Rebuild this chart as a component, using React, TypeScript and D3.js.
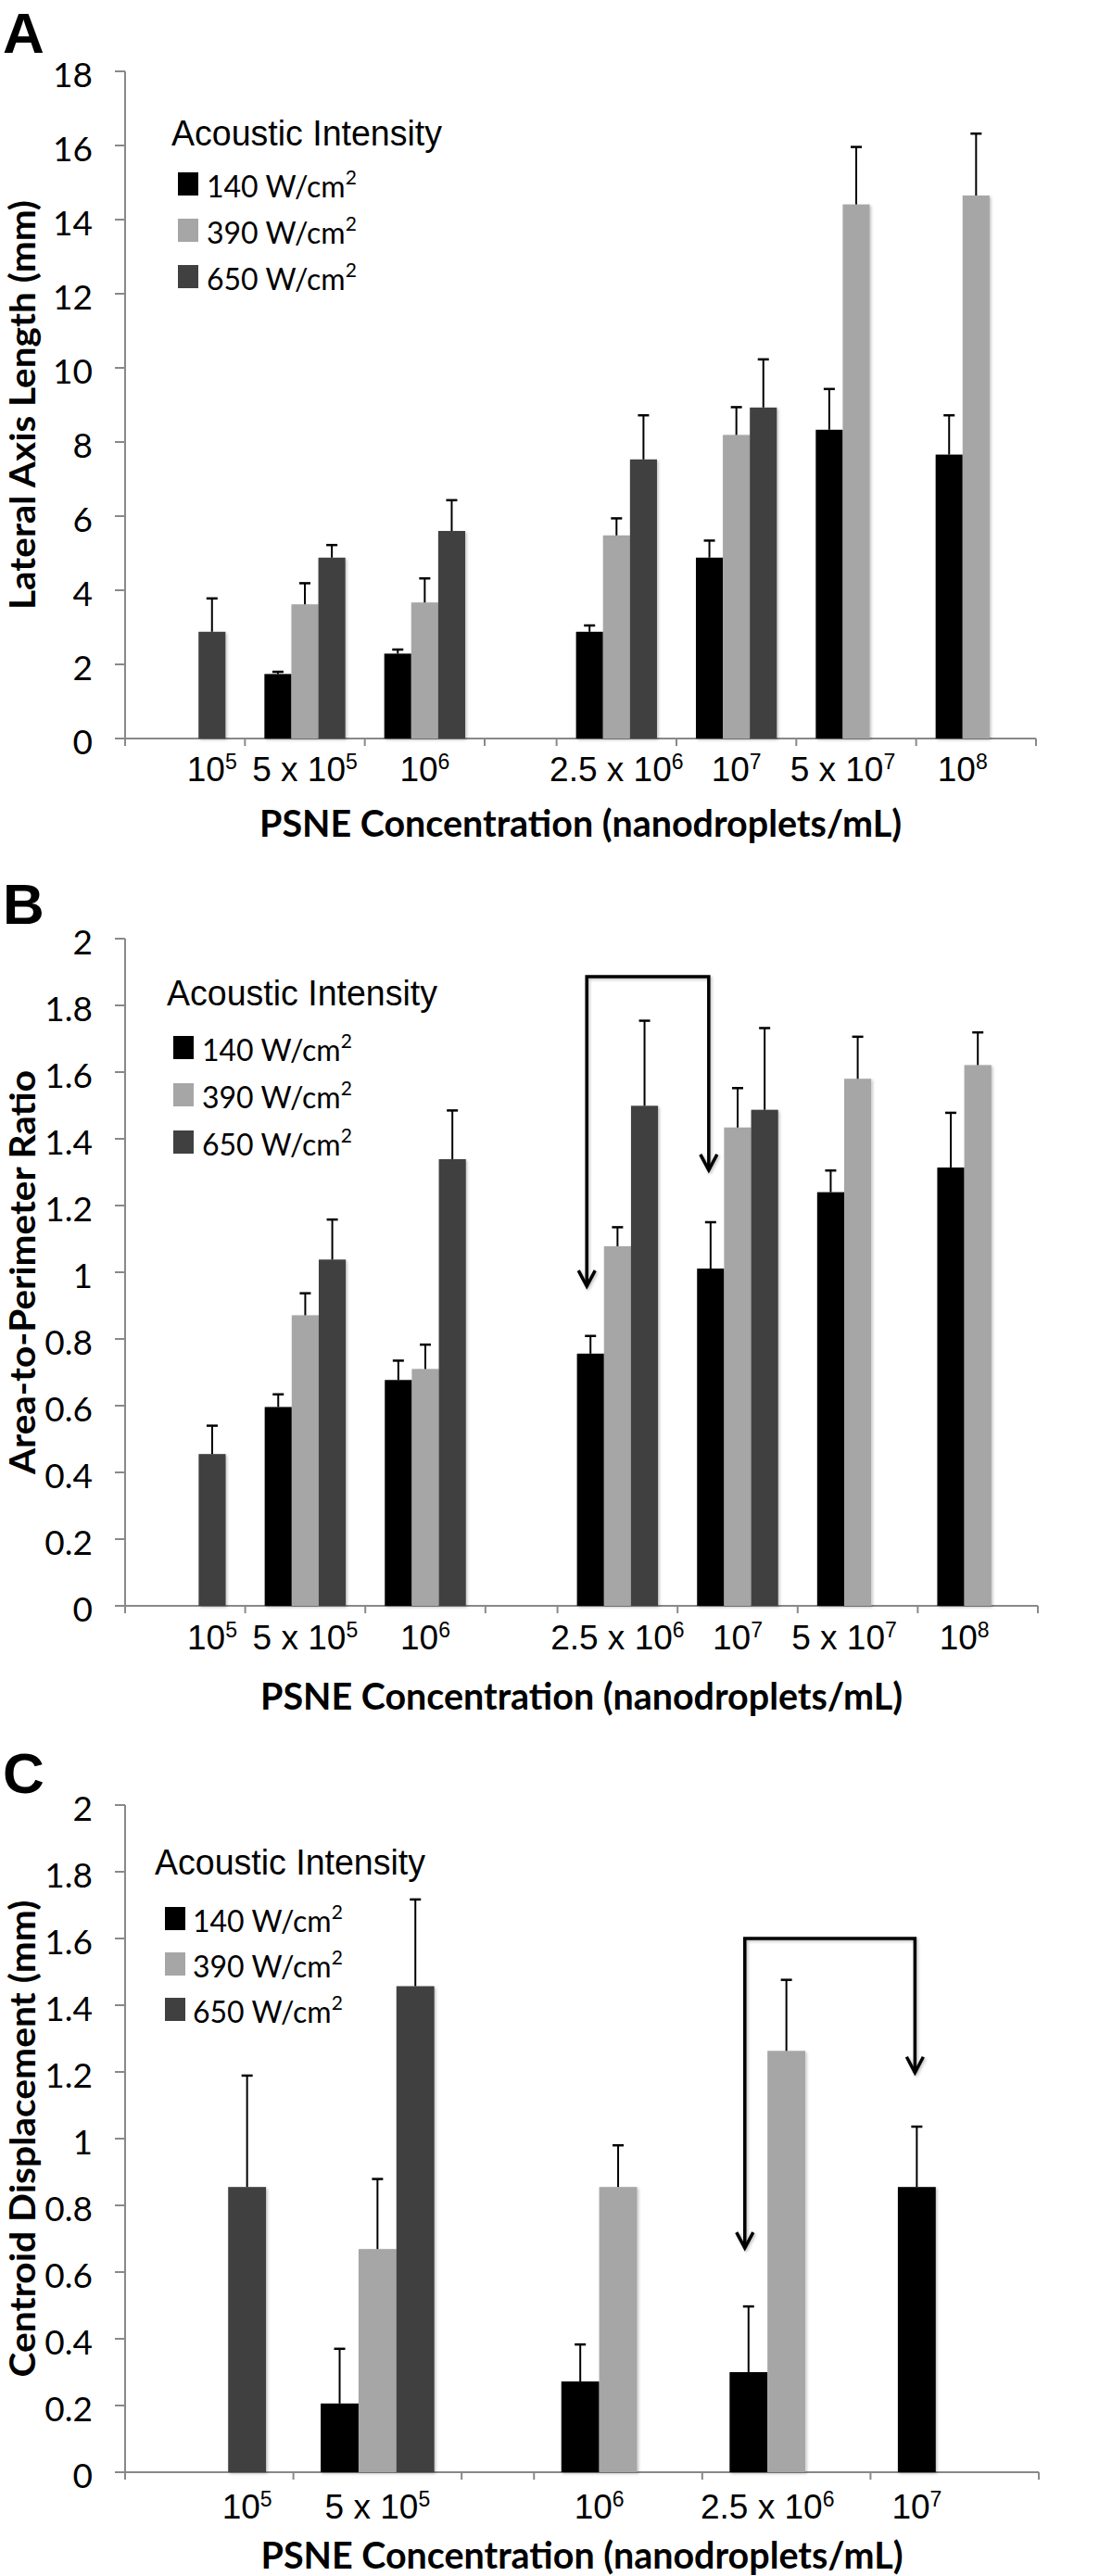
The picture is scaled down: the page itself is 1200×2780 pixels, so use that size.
import React from "react";
import * as d3 from "d3";

// ---------- data ----------
const seriesNames = ["140", "390", "650"];
const seriesColors = ["#000000", "#a6a6a6", "#404040"];
const legendTitle = "Acoustic Intensity";
const xTitle = "PSNE Concentration (nanodroplets/mL)";

const catBaseAB = ["10", "5 x 10", "10", "2.5 x 10", "10", "5 x 10", "10"];
const catExpAB = ["5", "5", "6", "6", "7", "7", "8"];
const catBaseC = ["10", "5 x 10", "10", "2.5 x 10", "10"];
const catExpC = ["5", "5", "6", "6", "7"];

// Panel A: Lateral Axis Length (mm)
const a140 = [null, 1.74, 2.29, 2.88, 4.88, 8.33, 7.66];
const a140Err = [null, 0.06, 0.11, 0.17, 0.46, 1.1, 1.06];
const a390 = [null, 3.62, 3.67, 5.48, 8.19, 14.41, 14.65];
const a390Err = [null, 0.57, 0.65, 0.46, 0.75, 1.55, 1.67];
const a650 = [2.88, 4.88, 5.6, 7.53, 8.93, null, null];
const a650Err = [0.9, 0.34, 0.83, 1.19, 1.3, null, null];

// Panel B: Area-to-Perimeter Ratio
const b140 = [null, 0.596, 0.677, 0.756, 1.011, 1.24, 1.314];
const b140Err = [null, 0.038, 0.058, 0.053, 0.139, 0.065, 0.164];
const b390 = [null, 0.871, 0.71, 1.078, 1.434, 1.58, 1.621];
const b390Err = [null, 0.066, 0.073, 0.057, 0.118, 0.126, 0.098];
const b650 = [0.455, 1.038, 1.339, 1.499, 1.487, null, null];
const b650Err = [0.085, 0.12, 0.146, 0.255, 0.245, null, null];
// bracket: [top level, left tip, right tip]
const bBracket = [1.886, 0.958, 1.306];

// Panel C: Centroid Displacement (mm)
const c140 = [null, 0.206, 0.272, 0.3, 0.855];
const c140Err = [null, 0.164, 0.111, 0.197, 0.181];
const c390 = [null, 0.669, 0.855, 1.263, null];
const c390Err = [null, 0.21, 0.125, 0.213, null];
const c650 = [0.855, 1.457, null, null, null];
const c650Err = [0.334, 0.26, null, null, null];
const cBracket = [1.6, 0.672, 1.198];

// ---------- layout ----------
const X0 = 135;
const AXIS = "#898989";
const TICKFONT = "Lato, 'Open Sans', sans-serif";
const ARIAL = "'Liberation Sans', Arial, sans-serif";

const panels = [
  {
    letter: "A", letterY: 57,
    yTop: 77, yBottom: 797, yMax: 18, yStep: 2,
    yTitle: "Lateral Axis Length (mm)", yTitleLen: 442,
    x1: 1118, gapAfter: 2, gapW: 0.6,
    base: catBaseAB, exp: catExpAB,
    vals: [a140, a390, a650], errs: [a140Err, a390Err, a650Err],
    legend: { tx: 185, ty: 157, bx: 192, lx: 223, y0: 213, step: 50 },
    catY: 843, xTitleY: 903, bracket: null,
  },
  {
    letter: "B", letterY: 997,
    yTop: 1013, yBottom: 1733, yMax: 2, yStep: 0.2,
    yTitle: "Area-to-Perimeter Ratio", yTitleLen: 436,
    x1: 1120, gapAfter: 2, gapW: 0.6,
    base: catBaseAB, exp: catExpAB,
    vals: [b140, b390, b650], errs: [b140Err, b390Err, b650Err],
    legend: { tx: 180, ty: 1085, bx: 187, lx: 218, y0: 1145, step: 51 },
    catY: 1780, xTitleY: 1845, bracket: { from: 3, to: 4, levels: bBracket },
  },
  {
    letter: "C", letterY: 1935,
    yTop: 1948, yBottom: 2668, yMax: 2, yStep: 0.2,
    yTitle: "Centroid Displacement (mm)", yTitleLen: 515,
    x1: 1121, gapAfter: 1, gapW: 0.43,
    base: catBaseC, exp: catExpC,
    vals: [c140, c390, c650], errs: [c140Err, c390Err, c650Err],
    legend: { tx: 167, ty: 2023, bx: 178, lx: 208, y0: 2085, step: 49 },
    catY: 2718, xTitleY: 2772, bracket: { from: 3, to: 4, levels: cBracket },
  },
];

function Panel({ p }: { p: any }) {
  const n = p.base.length;
  // slot widths: one per category plus a narrow empty slot after gapAfter
  const slotW: number[] = [];
  const catSlot: number[] = [];
  for (let i = 0; i < n; i++) {
    catSlot.push(slotW.length);
    slotW.push(1);
    if (i === p.gapAfter) slotW.push(p.gapW);
  }
  const cum = [0];
  slotW.forEach((w) => cum.push(cum[cum.length - 1] + w));
  const total = cum[cum.length - 1];
  const xs = d3.scaleLinear().domain([0, total]).range([X0, p.x1]);
  const unit = xs(1) - xs(0);
  const bw = unit * 0.225;
  const groupOff = (unit - 3 * bw) / 2;
  const barX = (ci: number, si: number) => xs(cum[catSlot[ci]]) + groupOff + si * bw;

  const y = d3.scaleLinear().domain([0, p.yMax]).range([p.yBottom, p.yTop]);
  const yTicks = d3.range(0, p.yMax + p.yStep / 2, p.yStep).map((v) => +v.toFixed(1));
  const fmt = (v: number) => String(+v.toFixed(1));

  const bars: any[] = [];
  const errs: any[] = [];
  p.vals.forEach((arr: any[], si: number) => {
    arr.forEach((v: any, ci: number) => {
      if (v == null) return;
      const x = barX(ci, si);
      bars.push(
        <rect key={`b${si}-${ci}`} x={x} y={y(v)} width={bw} height={y(0) - y(v)}
          fill={seriesColors[si]} filter="url(#sh)" />
      );
      const e = p.errs[si][ci];
      if (e != null) {
        const cx = x + bw / 2;
        errs.push(
          <g key={`e${si}-${ci}`} stroke="#000" strokeWidth={2}>
            <line x1={cx} x2={cx} y1={y(v)} y2={y(v + e)} />
            <line x1={cx - 6} x2={cx + 6} y1={y(v + e)} y2={y(v + e)} strokeWidth={2.5} />
          </g>
        );
      }
    });
  });

  const labelX = (ci: number) => {
    const present = [0, 1, 2].filter((si) => p.vals[si][ci] != null);
    const lo = barX(ci, present[0]);
    const hi = barX(ci, present[present.length - 1]) + bw;
    return (lo + hi) / 2;
  };

  let bracket = null;
  if (p.bracket) {
    const [top, tipL, tipR] = p.bracket.levels;
    const xl = barX(p.bracket.from, 0) + bw / 2 - 4;
    const xr = barX(p.bracket.to, 0) + bw / 2 - 2;
    const chev = (x: number, yy: number) => `M${x - 9},${yy - 17} L${x},${yy} L${x + 9},${yy - 17}`;
    bracket = (
      <g fill="none" stroke="#000" strokeWidth={3.5} filter="url(#sh)">
        <path d={`M${xl},${y(tipL)} L${xl},${y(top)} L${xr},${y(top)} L${xr},${y(tipR)}`} strokeLinejoin="miter" />
        <path d={chev(xl, y(tipL))} />
        <path d={chev(xr, y(tipR))} />
      </g>
    );
  }

  const ymid = (p.yTop + p.yBottom) / 2;
  const lg = p.legend;

  return (
    <g>
      <text x={3} y={p.letterY} fontFamily={ARIAL} fontWeight="bold" fontSize={62}>{p.letter}</text>
      {/* y axis */}
      <line x1={X0} x2={X0} y1={p.yTop} y2={p.yBottom} stroke={AXIS} strokeWidth={2} />
      {yTicks.map((t) => (
        <g key={t}>
          <line x1={X0 - 11} x2={X0} y1={y(t)} y2={y(t)} stroke={AXIS} strokeWidth={2} />
          <text x={100} y={y(t) + 16.5} textAnchor="end" fontFamily={TICKFONT} fontSize={37}>{fmt(t)}</text>
        </g>
      ))}
      {/* x axis */}
      <line x1={X0} x2={p.x1} y1={p.yBottom} y2={p.yBottom} stroke={AXIS} strokeWidth={2} />
      {cum.map((c, i) => (
        <line key={i} x1={xs(c)} x2={xs(c)} y1={p.yBottom} y2={p.yBottom + 8} stroke={AXIS} strokeWidth={2} />
      ))}
      {bars}
      {errs}
      {bracket}
      {p.base.map((b: string, ci: number) => (
        <text key={ci} x={labelX(ci)} y={p.catY} textAnchor="middle" fontFamily={ARIAL} fontSize={37}>
          <tspan>{b}</tspan>
          <tspan dy={-13} fontSize={23}>{p.exp[ci]}</tspan>
        </text>
      ))}
      <text x={(X0 + p.x1) / 2} y={p.xTitleY} textAnchor="middle" fontFamily={TICKFONT} fontWeight="bold"
        fontSize={39.5} textLength={693} lengthAdjust="spacingAndGlyphs">{xTitle}</text>
      <text transform={`translate(38,${ymid}) rotate(-90)`} textAnchor="middle" fontFamily={TICKFONT}
        fontWeight="bold" fontSize={38} textLength={p.yTitleLen} lengthAdjust="spacingAndGlyphs">{p.yTitle}</text>
      {/* legend */}
      <text x={lg.tx} y={lg.ty} fontFamily={ARIAL} fontSize={38} textLength={292} lengthAdjust="spacingAndGlyphs">{legendTitle}</text>
      {seriesNames.map((s, si) => (
        <g key={s}>
          <rect x={lg.bx} y={lg.y0 + si * lg.step - 27} width={22} height={25} fill={seriesColors[si]} />
          <text x={lg.lx} y={lg.y0 + si * lg.step} fontFamily={TICKFONT} fontSize={32}>
            <tspan>{`${s} W/cm`}</tspan>
            <tspan dy={-14} fontSize={21}>2</tspan>
          </text>
        </g>
      ))}
    </g>
  );
}

export default function App() {
  return (
    <svg width={1200} height={2780} viewBox="0 0 1200 2780"
      style={{ position: "absolute", left: 0, top: 0, background: "#fff" }}>
      <defs>
        <filter id="sh" x="-30%" y="-10%" width="160%" height="120%">
          <feDropShadow dx={1.5} dy={1.5} stdDeviation={1.5} floodColor="#000" floodOpacity={0.25} />
        </filter>
      </defs>
      <rect width={1200} height={2780} fill="#fff" />
      {panels.map((p) => <Panel key={p.letter} p={p} />)}
    </svg>
  );
}
